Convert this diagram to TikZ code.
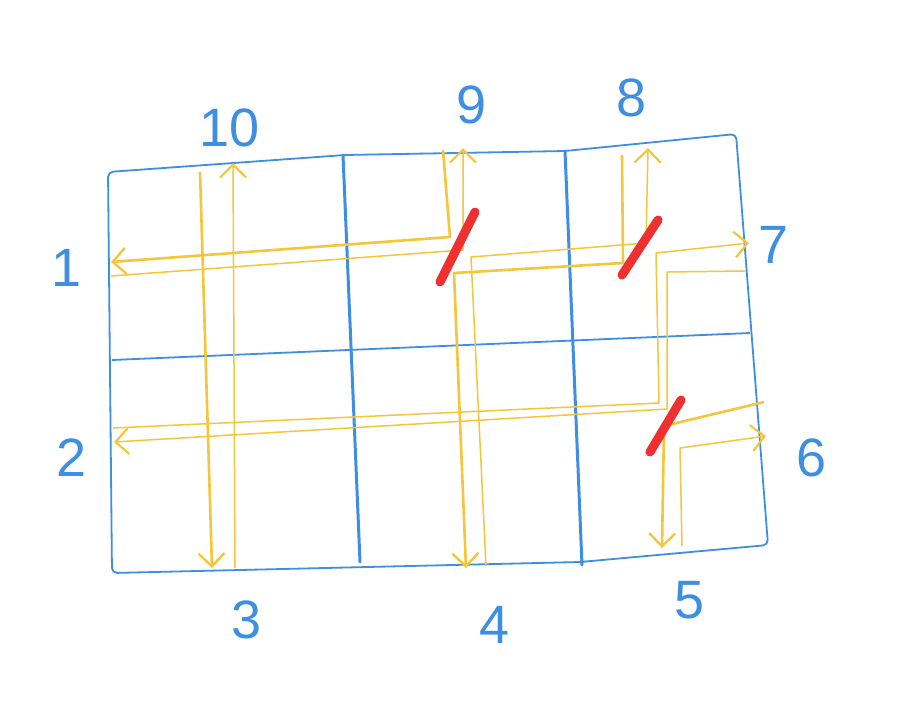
\documentclass[tikz,border=0pt]{standalone}
\usepackage{fontspec}
\setmainfont{Liberation Sans}
\usetikzlibrary{arrows.meta}
\definecolor{skBlue}{HTML}{3E8EE2}
\definecolor{skYellow}{HTML}{F6C63A}
\definecolor{skRed}{HTML}{EE3030}

\begin{document}
\begin{tikzpicture}[x=1pt,y=-1pt,
  frame/.style={skBlue,line width=1.8pt,line join=round,rounded corners=5pt},
  street/.style={skBlue,line width=3pt,line cap=round},
  lane/.style={skYellow,line width=2.6pt,line join=round,-{Straight Barb[length=13pt,width=26pt,line width=2.4pt]}},
  backlane/.style={skYellow,line width=1.5pt,line join=round,-{Straight Barb[length=13pt,width=26pt,line width=2.2pt]}},
  blocked/.style={skRed,line width=9pt,line cap=round},
  gate/.style={text=skBlue,inner sep=0pt,font=\fontsize{54}{54}\selectfont}]
\fill[white] (0,0) rectangle (902,716);
\useasboundingbox (0,0) rectangle (902,716);
% blocks
\draw[frame] (108,172) -- (345,155) -- (565,151) -- (736,134) -- (768,545) -- (580,562) -- (112,573) -- cycle;
\draw[frame] (112,360) -- (750,333);
\draw[street] (343,155) -- (360,562);
\draw[street] (565,151) -- (582,565);
% exits
\node[gate] (g1) at (67,268) {1};
\node[gate] (g2) at (72,458) {2};
\node[gate] (g3) at (247,620) {3};
\node[gate] (g4) at (495,625) {4};
\node[gate] (g5) at (690,600) {5};
\node[gate] (g6) at (812,458) {6};
\node[gate] (g7) at (774,245) {7};
\node[gate] (g8) at (632,98) {8};
\node[gate] (g9) at (472,105) {9};
\node[gate] (g10) at (230,128) {10};
% lane ends
\coordinate (in10) at (200,172); \coordinate (out10) at (233,163);
\coordinate (in3) at (235,568);  \coordinate (out3) at (212,568);
\coordinate (in9) at (443,150);  \coordinate (out9) at (463,148);
\coordinate (in1) at (111,276);  \coordinate (out1) at (111,262);
\coordinate (in8) at (622,155);  \coordinate (out8) at (648,148);
\coordinate (in4) at (486,566);  \coordinate (out4) at (466,568);
\coordinate (in2) at (113,428);  \coordinate (out2) at (114,442);
\coordinate (in7) at (745,271);  \coordinate (out7) at (749,243);
\coordinate (in6) at (764,402);  \coordinate (out6) at (766,436);
\coordinate (in5) at (682,546);  \coordinate (out5) at (662,548);
% lanes
\draw[lane] (in10) -- (out3);
\draw[backlane] (in3) -- (out10);
\draw[lane] (in9) -- (450,237) -- (out1);
\draw[backlane] (in1) -- (463,250) -- (out9);
\draw[lane] (in8) -- (623,263) -- (454,273) -- (out4);
\draw[backlane] (in4) -- (471,257) -- (646,243) -- (out8);
\draw[backlane] (in2) -- (659,403) -- (656,253) -- (out7);
\draw[backlane] (in7) -- (667,272) -- (667,409) -- (out2);
\draw[lane] (in6) -- (664,426) -- (out5);
\draw[backlane] (in5) -- (680,448) -- (out6);
% no turn
\draw[blocked] (440,282) -- (475,212);
\draw[blocked] (622,275) -- (658,220);
\draw[blocked] (650,452) -- (681,400);
\end{tikzpicture}
\end{document}
